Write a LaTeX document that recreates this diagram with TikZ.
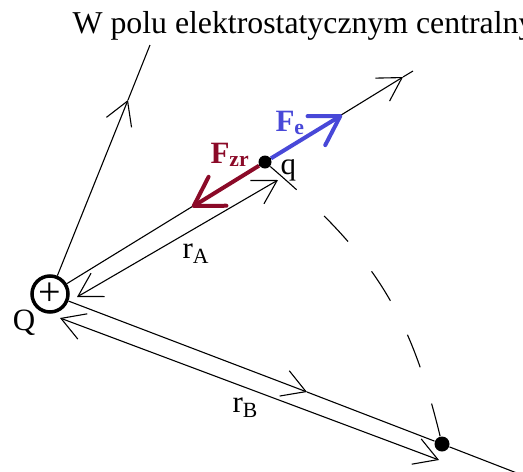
\documentclass[tikz,border=0pt]{standalone}
\usepackage{fontspec}
\setmainfont{Liberation Serif}
\usetikzlibrary{arrows.meta}
\definecolor{forcered}{HTML}{8B0A28}
\definecolor{forceblue}{HTML}{4848D8}

\begin{document}
\begin{tikzpicture}[x=1pt, y=-1pt, font=\fontsize{31}{36}\selectfont,
  line width=1.1pt,
  >={Straight Barb[length=23pt,width=27pt]},
  force/.style={line width=4pt, -{Straight Barb[length=28pt,width=34pt,round]}},
  charge/.style={circle, fill=black, inner sep=0pt, minimum size=13pt},
  lbl/.style={anchor=base west, inner sep=0pt}]
  \useasboundingbox (0,0) rectangle (523,472);

  % title (cut by the right edge)
  \node[lbl, font=\fontsize{31.8}{36}\selectfont] (title) at (72,33) {W polu elektrostatycznym centralny};

  % central charge Q and test charge q
  \node[circle, draw, line width=3.5pt, minimum size=36pt, inner sep=0pt,
        font=\fontsize{40}{40}\selectfont] (Q) at (50,294) {+};
  \node[anchor=base, inner sep=0pt] (Qlabel) at (24,330) {Q};
  \node[charge] (q) at (265,162) {};
  \node[lbl] (qlabel) at (280,174) {q};
  \node[charge, minimum size=15pt] (B) at (442,444) {};

  % field lines
  \coordinate (upTip) at (128,100);
  \coordinate (upEnd) at (150,45);
  \coordinate (qTip)  at (403,77);
  \coordinate (qEnd)  at (413,71);
  \coordinate (rbTip) at (307,392);
  \coordinate (rbEnd) at (540,482);
  \draw[->] (Q) -- (upTip);
  \draw (upTip) -- (upEnd);
  \draw[->] (Q) -- (qTip);
  \draw (qTip) -- (qEnd);
  \draw[->] (Q) -- (rbTip);
  \draw (rbTip) -- (B) -- (rbEnd);

  % distances r_A and r_B
  \coordinate (rAnear) at (77,297);
  \coordinate (rAfar)  at (278,180);
  \coordinate (rBnear) at (60,318);
  \coordinate (rBfar)  at (439,460);
  \draw[<->] (rAnear) -- (rAfar);
  \draw[<->] (rBnear) -- (rBfar);
  \node[lbl] (rA) at (182,258) {r\textsubscript{A}};
  \node[lbl] (rB) at (232,412) {r\textsubscript{B}};

  % path from A to B
  \draw[dash pattern=on 35pt off 38pt] (q) .. controls (371,253) and (409,308) .. (B);

  % forces on q
  \coordinate (feTip)  at (342,115);
  \coordinate (fzrTip) at (192,207);
  \draw[force, forceblue] (q) -- (feTip);
  \draw[force, forcered]  (q) -- (fzrTip);
  \node[lbl, forceblue] (Fe)  at (275,131) {\textbf{F\textsubscript{e}}};
  \node[lbl, forcered]  (Fzr) at (210,163) {\textbf{F\textsubscript{zr}}};
\end{tikzpicture}
\end{document}
